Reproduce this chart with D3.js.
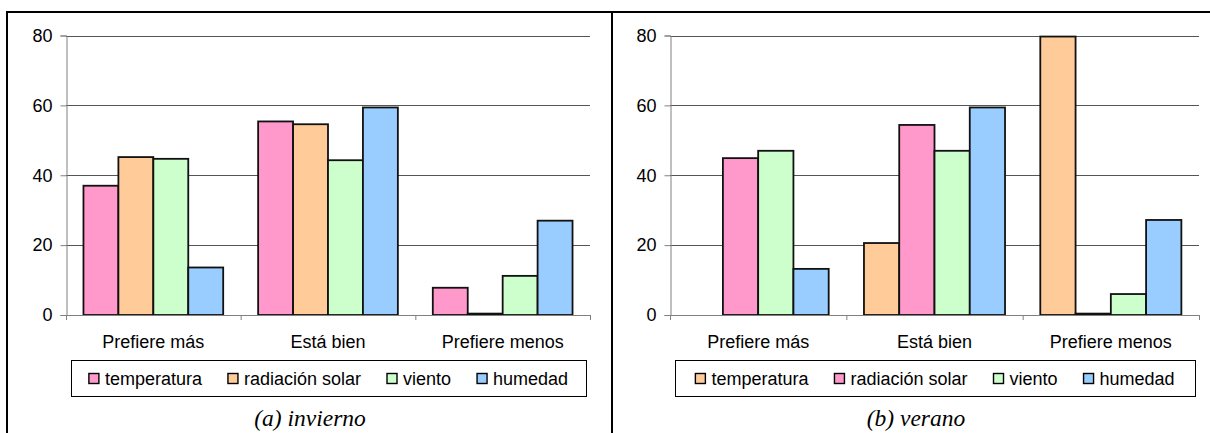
<!DOCTYPE html>
<html>
<head>
<meta charset="utf-8">
<script src="https://cdn.jsdelivr.net/npm/d3@7"></script>
<style>
  body { margin: 0; background: #fff; }
  text { font-family: "Liberation Sans", Arial, sans-serif; }
  text.caption { font-family: "Liberation Serif", "Times New Roman", serif; font-style: italic; }
</style>
</head>
<body>
<svg id="chart" width="1210" height="433"></svg>
<script>
const categories = ["Prefiere más", "Está bien", "Prefiere menos"];
const yTicks = [0, 20, 40, 60, 80];

// (a) invierno
const inviernoSeries = ["temperatura", "radiación solar", "viento", "humedad"];
const inviernoColors = ["#ff99cc", "#ffcc99", "#ccffcc", "#99ccff"];
const inviernoTemperatura = [37, 55.4, 7.8];
const inviernoRadiacion = [45.2, 54.6, 0.4];
const inviernoViento = [44.7, 44.3, 11.2];
const inviernoHumedad = [13.6, 59.4, 27];

// (b) verano
const veranoSeries = ["temperatura", "radiación solar", "viento", "humedad"];
const veranoColors = ["#ffcc99", "#ff99cc", "#ccffcc", "#99ccff"];
const veranoTemperatura = [0, 20.6, 79.7];
const veranoRadiacion = [44.9, 54.4, 0.4];
const veranoViento = [47, 47, 6];
const veranoHumedad = [13.2, 59.4, 27.2];

const panels = [
  {
    caption: "(a) invierno", captionX: 310,
    x0: 66, x1: 590,
    series: inviernoSeries, colors: inviernoColors,
    values: [inviernoTemperatura, inviernoRadiacion, inviernoViento, inviernoHumedad],
  },
  {
    caption: "(b) verano", captionX: 916,
    x0: 670, x1: 1199,
    series: veranoSeries, colors: veranoColors,
    values: [veranoTemperatura, veranoRadiacion, veranoViento, veranoHumedad],
  },
];

const svg = d3.select("#chart");
const yTop = 35.5, yBottom = 315;
const y = d3.scaleLinear().domain([0, 80]).range([yBottom, yTop]);
const fontSize = 18;

// frame lines
svg.append("line").attr("x1", 6).attr("x2", 1210).attr("y1", 12).attr("y2", 12)
  .attr("stroke", "#000").attr("stroke-width", 2);
[7, 612].forEach(xv => {
  svg.append("line").attr("x1", xv).attr("x2", xv).attr("y1", 11).attr("y2", 433)
    .attr("stroke", "#000").attr("stroke-width", 2);
});

panels.forEach(p => {
  const g = svg.append("g");
  const x = d3.scaleBand().domain(categories).range([p.x0, p.x1]).padding(0);
  const xs = d3.scaleBand().domain(p.series).range([0, x.bandwidth()])
    .paddingInner(0).paddingOuter(0.5);

  // gridlines
  g.append("g")
    .selectAll("line")
    .data(yTicks.filter(d => d > 0))
    .join("line")
    .attr("x1", p.x0).attr("x2", p.x1)
    .attr("y1", d => Math.round(y(d)) + 0.5).attr("y2", d => Math.round(y(d)) + 0.5)
    .attr("stroke", "#555").attr("stroke-width", 1);

  // y axis
  const yAxis = g.append("g")
    .attr("transform", `translate(${p.x0 + 0.5},0)`)
    .call(d3.axisLeft(y).tickValues(yTicks).tickSize(6).tickPadding(8));
  yAxis.select(".domain").attr("stroke", "#808080");
  yAxis.selectAll(".tick line").attr("stroke", "#808080");
  yAxis.selectAll("text").attr("font-size", fontSize).attr("fill", "#000");

  // bars
  p.series.forEach((s, i) => {
    g.append("g")
      .selectAll("rect")
      .data(categories.map((c, j) => ({ cat: c, value: p.values[i][j] })))
      .join("rect")
      .attr("x", d => x(d.cat) + xs(s))
      .attr("y", d => y(d.value))
      .attr("width", xs.bandwidth())
      .attr("height", d => yBottom - y(d.value))
      .attr("fill", p.colors[i])
      .attr("stroke", "#111")
      .attr("stroke-width", 1.8);
  });

  // x axis
  g.append("line")
    .attr("x1", p.x0).attr("x2", p.x1)
    .attr("y1", yBottom + 0.5).attr("y2", yBottom + 0.5)
    .attr("stroke", "#808080");
  g.append("g")
    .selectAll("line")
    .data([p.x0, ...categories.map(c => x(c) + x.bandwidth())])
    .join("line")
    .attr("x1", d => d + 0.5).attr("x2", d => d + 0.5)
    .attr("y1", yBottom).attr("y2", yBottom + 5)
    .attr("stroke", "#808080");
  g.append("g")
    .selectAll("text")
    .data(categories)
    .join("text")
    .attr("x", d => x(d) + x.bandwidth() / 2)
    .attr("y", 347.5)
    .attr("text-anchor", "middle")
    .attr("font-size", fontSize)
    .text(d => d);

  // legend
  const lx0 = p.x0 + 5, lx1 = p.x1 - 4;
  const legend = g.append("g");
  legend.append("rect")
    .attr("x", lx0 + 0.5).attr("y", 360.5)
    .attr("width", lx1 - lx0).attr("height", 36)
    .attr("fill", "#fff").attr("stroke", "#000").attr("stroke-width", 1);
  const items = legend.selectAll("g.item")
    .data(p.series)
    .join("g")
    .attr("class", "item");
  items.append("rect")
    .attr("width", 10).attr("height", 10)
    .attr("y", 373.5)
    .attr("fill", (d, i) => p.colors[i])
    .attr("stroke", "#000").attr("stroke-width", 1.4);
  items.append("text")
    .attr("x", 16).attr("y", 384.5)
    .attr("font-size", fontSize)
    .text(d => d);
  const gap = 26;
  const widths = [];
  items.each(function () {
    widths.push(16 + d3.select(this).select("text").node().getComputedTextLength());
  });
  const total = d3.sum(widths) + gap * (widths.length - 1);
  let cx = (lx0 + lx1) / 2 - total / 2;
  items.each(function (d, i) {
    d3.select(this).attr("transform", `translate(${cx},0)`);
    cx += widths[i] + gap;
  });

  // caption
  svg.append("text")
    .attr("class", "caption")
    .attr("x", p.captionX).attr("y", 426)
    .attr("text-anchor", "middle")
    .attr("font-size", 23.5)
    .text(p.caption);
});
</script>
</body>
</html>
